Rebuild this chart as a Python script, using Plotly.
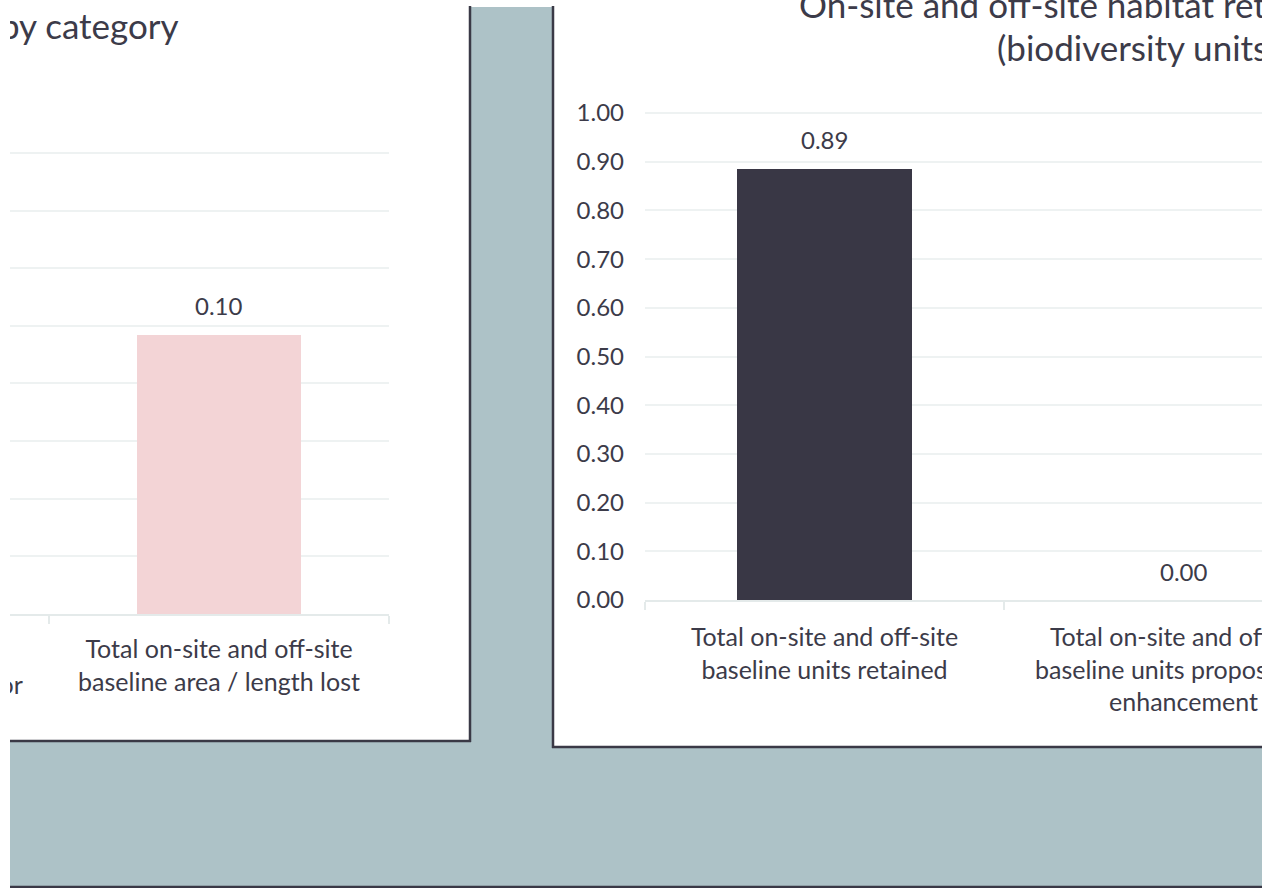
import plotly.graph_objects as go

W, H = 1277, 888

# ---------------- data ----------------
left_title = "Habitat area / length lost and retained by category"
left_categories = [
    "Total on-site and off-site<br>baseline habitat retained or<br>enhanced",
    "Total on-site and off-site<br>baseline area / length lost",
]
left_values = [None, 0.097]
left_ymax = 0.16
left_dtick = 0.02

right_title_line1 = "On-site and off-site habitat retention"
right_title_line2 = "(biodiversity units)"
right_categories = [
    "Total on-site and off-site<br>baseline units retained",
    "Total on-site and off-site<br>baseline units proposed for<br>enhancement",
]
right_values = [0.886, 0.0]
right_ymax = 1.0
right_dtick = 0.1

# ---------------- style ----------------
FONT = "Lato"
TXT = "#3c3b49"
GRID = "#eef2f2"
AXLINE = "#e4eaea"
TEAL = "#adc2c7"
BORDER = "#3a3946"
PINK = "#f3d4d6"
DARK = "#393745"
AX_FS = 24
CAT_FS = 25
TITLE_FS = 35
EPS = 1.004  # tiny headroom so the top gridline is drawn


def px(x):
    return x / W


def py(y):
    return 1 - y / H


fig = go.Figure()

fig.add_trace(go.Bar(x=left_categories, y=left_values, marker_color=PINK,
                     width=0.485, xaxis="x", yaxis="y", hoverinfo="skip"))
fig.add_trace(go.Bar(x=right_categories, y=right_values, marker_color=DARK,
                     width=0.485, xaxis="x2", yaxis="y2", hoverinfo="skip"))

common_x = dict(type="category", showgrid=False, showline=True, linecolor=AXLINE,
                linewidth=2, ticks="outside", tickson="boundaries", ticklen=8,
                tickcolor=AXLINE, tickwidth=2, tickfont=dict(size=CAT_FS, color=TXT, family=FONT),
                automargin=False, fixedrange=True, zeroline=False)
common_y = dict(showgrid=True, gridcolor=GRID, gridwidth=2, zeroline=False,
                automargin=False, fixedrange=True, showline=False, ticks="")

# pixel positions of the plot areas (top pixel = axis max)
L_TOP, L_BASE = 153, 614
R_TOP, R_BASE = 113, 600
l_top_ext = L_BASE - (L_BASE - L_TOP) * EPS
r_top_ext = R_BASE - (R_BASE - R_TOP) * EPS

fig.update_layout(
    width=W, height=H, autosize=False,
    margin=dict(l=0, r=0, t=0, b=0, pad=0),
    paper_bgcolor="white", plot_bgcolor="rgba(0,0,0,0)",
    showlegend=False, template="none", bargap=0,
    font=dict(family=FONT, color=TXT),
    xaxis=dict(domain=[px(10), px(389)], categoryarray=left_categories,
               categoryorder="array", range=[1.5 - 379 / 340, 1.5], anchor="y",
               ticklabelstandoff=12, **common_x),
    yaxis=dict(domain=[py(L_BASE), py(l_top_ext)], range=[0, left_ymax * EPS], dtick=left_dtick,
               showticklabels=False, anchor="x", **common_y),
    xaxis2=dict(domain=[px(645), px(1262)], categoryarray=right_categories,
                categoryorder="array", range=[-0.5, -0.5 + 617 / 359], anchor="y2",
                ticklabelstandoff=14, **common_x),
    yaxis2=dict(domain=[py(R_BASE), py(r_top_ext)], range=[0, right_ymax * EPS], dtick=right_dtick,
                tickformat=".2f", tickfont=dict(size=AX_FS, color=TXT, family=FONT),
                ticklabelstandoff=20, anchor="x2", **common_y),
)

shapes = [
    # teal backdrop
    dict(type="rect", xref="paper", yref="paper", x0=px(10), x1=px(1262), y0=py(888), y1=py(7),
         fillcolor=TEAL, line_width=0, layer="below"),
    # left panel
    dict(type="rect", xref="paper", yref="paper", x0=px(0), x1=px(470), y0=py(741), y1=py(0),
         fillcolor="white", line_width=0, layer="below"),
    # right panel
    dict(type="rect", xref="paper", yref="paper", x0=px(553), x1=px(1277), y0=py(747), y1=py(0),
         fillcolor="white", line_width=0, layer="below"),
    # borders
    dict(type="line", xref="paper", yref="paper", x0=px(470), x1=px(470), y0=py(742), y1=py(6),
         line=dict(color=BORDER, width=2.5), layer="below"),
    dict(type="line", xref="paper", yref="paper", x0=px(0), x1=px(471), y0=py(741), y1=py(741),
         line=dict(color=BORDER, width=2.5), layer="below"),
    dict(type="line", xref="paper", yref="paper", x0=px(553), x1=px(553), y0=py(748), y1=py(6),
         line=dict(color=BORDER, width=2.5), layer="below"),
    dict(type="line", xref="paper", yref="paper", x0=px(552), x1=px(1277), y0=py(747), y1=py(747),
         line=dict(color=BORDER, width=2.5), layer="below"),
    dict(type="line", xref="paper", yref="paper", x0=px(10), x1=px(1277), y0=py(887), y1=py(887),
         line=dict(color=BORDER, width=2.5), layer="below"),
]
fig.update_layout(shapes=shapes)

ann = []
# value labels
for cat, v in zip(left_categories, left_values):
    if v is not None:
        ann.append(dict(x=cat, y=v, xref="x", yref="y", text=f"{v:.2f}", showarrow=False,
                        yanchor="middle", yshift=29, font=dict(size=AX_FS, color=TXT, family=FONT)))
for cat, v in zip(right_categories, right_values):
    if v is not None:
        ann.append(dict(x=cat, y=v, xref="x2", yref="y2", text=f"{v:.2f}", showarrow=False,
                        yanchor="middle", yshift=29, font=dict(size=AX_FS, color=TXT, family=FONT)))
# partially visible previous category label of the left chart
ann.append(dict(x=px(-127), y=py(634), xref="paper", yref="paper", xanchor="center",
                yanchor="top", text=left_categories[0], showarrow=False, align="center",
                font=dict(size=CAT_FS, color=TXT, family=FONT)))
# titles
ann.append(dict(x=px(181), y=py(25), xref="paper", yref="paper", xanchor="right",
                yanchor="middle", text=left_title, showarrow=False,
                font=dict(size=TITLE_FS, color=TXT, family=FONT)))
ann.append(dict(x=px(797), y=py(4), xref="paper", yref="paper", xanchor="left",
                yanchor="middle", text=right_title_line1, showarrow=False,
                font=dict(size=TITLE_FS, color=TXT, family=FONT)))
ann.append(dict(x=px(995), y=py(47), xref="paper", yref="paper", xanchor="left",
                yanchor="middle", text=right_title_line2, showarrow=False,
                font=dict(size=TITLE_FS, color=TXT, family=FONT)))
# white edge strips (the screenshot is cropped at both sides)
ann.append(dict(x=0, y=1, xref="paper", yref="paper", xanchor="left", yanchor="top",
                width=10, height=H, text=" ", showarrow=False, bgcolor="white", borderpad=0,
                borderwidth=0))
ann.append(dict(x=1, y=1, xref="paper", yref="paper", xanchor="right", yanchor="top",
                width=W - 1262, height=H, text=" ", showarrow=False, bgcolor="white", borderpad=0,
                borderwidth=0))
fig.update_layout(annotations=ann)

fig.write_html("out.html", config={"displayModeBar": False, "staticPlot": True},
               post_script="document.body.style.margin='0';document.body.style.overflow='hidden';")
